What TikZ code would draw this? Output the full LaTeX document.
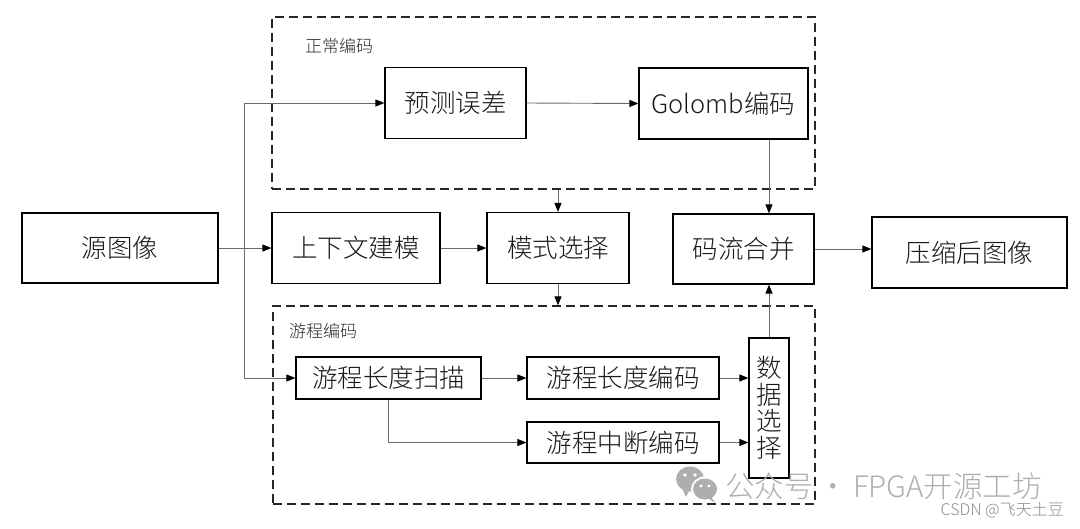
\documentclass[tikz,border=0pt]{standalone}
\usepackage{fontspec}
\setmainfont{Noto Sans CJK SC}[UprightFont={* Light}]
\usetikzlibrary{arrows.meta}
\definecolor{linegray}{HTML}{6A6A6A}
\definecolor{wmgray}{HTML}{AEAEAE}
\definecolor{csdngray}{HTML}{8A8A8A}
\begin{document}
\begin{tikzpicture}[x=1pt,y=-1pt,
  box/.style={draw=black, line width=1.2pt, inner sep=0pt, fill=white,
    font=\fontsize{25.5}{28}\selectfont, text=black!90},
  dbox/.style={draw=black!85, line width=1.3pt, dash pattern=on 9pt off 5pt, inner sep=0pt},
  grplabel/.style={font=\fontsize{17}{19}\selectfont, text=black!85, inner sep=0pt},
  conn/.style={draw=linegray, line width=0.9pt, -{Triangle[length=9pt,width=7pt,color=black]}},
  plain/.style={draw=linegray, line width=0.9pt}]
\useasboundingbox (0,0) rectangle (1080,528);

% group boxes
\node[dbox, minimum width=543, minimum height=172] (topgrp) at (543.5,103) {};
\node[dbox, minimum width=542, minimum height=198] (botgrp) at (544,405) {};
\node[grplabel] (toplab) at (339,46) {正常编码};
\node[grplabel] (botlab) at (323,331) {游程编码};

% main nodes
\node[box, minimum width=196, minimum height=70] (src) at (120,248) {源图像};
\node[box, minimum width=168, minimum height=71] (ctx) at (356,248) {上下文建模};
\node[box, minimum width=142, minimum height=71] (mode) at (558,248) {模式选择};
\node[box, minimum width=141, minimum height=71] (pred) at (455.5,103) {预测误差};
\node[box, minimum width=169, minimum height=71] (golomb) at (723.5,103.5) {Golomb编码};
\node[box, minimum width=141, minimum height=70] (merge) at (743.5,249) {码流合并};
\node[box, minimum width=195, minimum height=71] (out) at (969.5,252.5) {压缩后图像};
\node[box, minimum width=185, minimum height=42] (scan) at (388.5,378) {游程长度扫描};
\node[box, minimum width=192, minimum height=42] (rlc) at (623,378) {游程长度编码};
\node[box, minimum width=192, minimum height=41] (brk) at (623,442.5) {游程中断编码};
\node[box, minimum width=40, minimum height=140, align=center,
      font=\fontsize{25.5}{26.5}\selectfont] (sel) at (769,408) {数\\据\\选\\择};

% connectors
\coordinate (j) at (244,248);
\draw[conn] (src.east) -- (ctx.west);
\draw[conn] (j) |- (pred.west);
\draw[conn] (j) |- (scan.west);
\draw[conn] (ctx.east) -- (mode.west);
\draw[conn] (pred.east) -- (golomb.west);
\draw[conn] (golomb.south -| sel.north) -- (merge.north -| sel.north);
\draw[conn] (topgrp.south -| mode.north) -- (mode.north);
\draw[conn] (mode.south) -- (botgrp.north -| mode.south);
\draw[conn] (merge.east) -- (merge.east -| out.west);
\draw[conn] (scan.east) -- (rlc.west);
\draw[conn] (scan.south) |- (brk.west);
\draw[conn] (rlc.east) -- (rlc.east -| sel.west);
\draw[conn] (brk.east) -- (brk.east -| sel.west);
\draw[conn] (sel.north) -- (merge.south -| sel.north);

% watermark
\fill[wmgray] (690,479) ellipse (14 and 12.5);
\fill[white] (685,475) circle (1.8) (695,475) circle (1.8);
\fill[wmgray] (682,488) -- (686,497) -- (690,489) -- cycle;
\fill[white] (705,489) ellipse (14 and 12.5);
\fill[wmgray] (705,489) ellipse (12 and 10.5);
\fill[wmgray] (711,496) -- (715,503) -- (708,498) -- cycle;
\fill[white] (701,486) circle (1.6) (709,486) circle (1.6);
\node[anchor=west, inner sep=0pt, text=wmgray, font=\fontsize{29.5}{32}\selectfont] (wm) at (725,486) {公众号\,·\,FPGA开源工坊};
\node[anchor=east, inner sep=0pt, text=csdngray, font=\fontsize{16}{18}\selectfont] (csdn) at (1064,510) {CSDN @飞天土豆};
\end{tikzpicture}
\end{document}
